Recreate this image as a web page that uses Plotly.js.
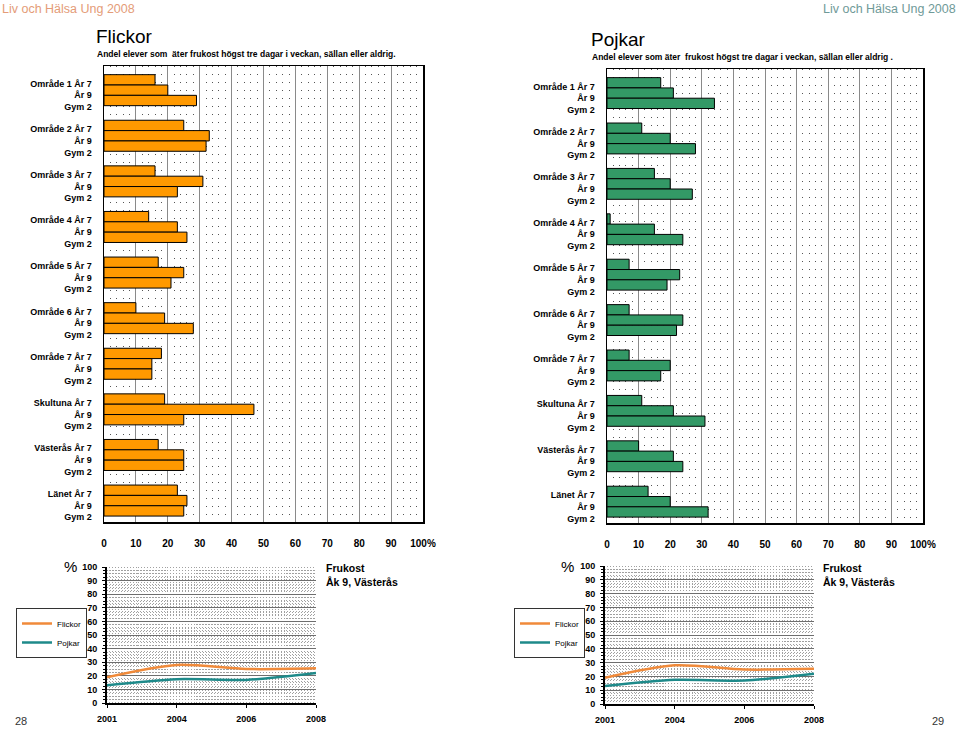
<!DOCTYPE html>
<html>
<head>
<meta charset="utf-8">
<script src="https://cdn.plot.ly/plotly-3.0.1.min.js"></script>
<style>
  html, body { margin: 0; padding: 0; background: #fff; }
  #chart { width: 960px; height: 729px; }
</style>
</head>
<body>
<div id="chart"></div>
<script>
// ---------- data ----------
const groups = ['Område 1', 'Område 2', 'Område 3', 'Område 4', 'Område 5',
                'Område 6', 'Område 7', 'Skultuna', 'Västerås', 'Länet'];
const levels = ['År 7', 'År 9', 'Gym 2'];

const flickorAr7  = [16, 25, 16, 14, 17, 10, 18, 19, 17, 23];
const flickorAr9  = [20, 33, 31, 23, 25, 19, 15, 47, 25, 26];
const flickorGym2 = [29, 32, 23, 26, 21, 28, 15, 25, 25, 25];

const pojkarAr7  = [17, 11, 15, 1, 7, 7, 7, 11, 10, 13];
const pojkarAr9  = [21, 20, 20, 15, 23, 24, 20, 21, 21, 20];
const pojkarGym2 = [34, 28, 27, 24, 19, 22, 17, 31, 24, 32];

const pctTicks = [0, 10, 20, 30, 40, 50, 60, 70, 80, 90, 100];
const pctLabels = ['0', '10', '20', '30', '40', '50', '60', '70', '80', '90', '100%'];

const years = ['2001', '2004', '2006', '2008'];
const trendFlickor = [19, 28, 25, 25.5];
const trendPojkar  = [13, 17.5, 17, 22];

// ---------- styling ----------
const FONT = 'Liberation Sans, Arial, sans-serif';
const ORANGE_BAR = '#FF9900';
const GREEN_BAR = '#339966';
const ORANGE_LINE = '#F08A3A';
const TEAL_LINE = '#1E8A8A';

const tickText = groups.map(g => g + ' ' + levels[0] + '<br>' + levels[1] + '<br>' + levels[2]);

function barTraces(vals, color, xa, ya) {
  return vals.map((v, i) => ({
    type: 'bar', orientation: 'h', x: v, y: groups, name: levels[i],
    xaxis: xa, yaxis: ya, showlegend: false,
    marker: { color: color, line: { color: '#000', width: 1 } },
    hoverinfo: 'x+name'
  }));
}

const yearIdx = years.map((_, i) => i);

function lineTrace(vals, name, color, xa, ya, lg) {
  return { type: 'scatter', mode: 'lines', x: yearIdx, y: vals, name: name,
    xaxis: xa, yaxis: ya, legend: lg,
    line: { color: color, width: 2.5, shape: 'spline', smoothing: 0.8 } };
}

const traces = [
  ...barTraces([flickorAr7, flickorAr9, flickorGym2], ORANGE_BAR, 'x', 'y'),
  ...barTraces([pojkarAr7, pojkarAr9, pojkarGym2], GREEN_BAR, 'x2', 'y2'),
  lineTrace(trendFlickor, 'Flickor', ORANGE_LINE, 'x3', 'y3', 'legend'),
  lineTrace(trendPojkar, 'Pojkar', TEAL_LINE, 'x3', 'y3', 'legend'),
  lineTrace(trendFlickor, 'Flickor', ORANGE_LINE, 'x4', 'y4', 'legend2'),
  lineTrace(trendPojkar, 'Pojkar', TEAL_LINE, 'x4', 'y4', 'legend2')
];

function barX(domain, anchor) {
  return {
    domain: domain, anchor: anchor, range: [0, 100], fixedrange: true,
    tickmode: 'array', tickvals: pctTicks, ticktext: pctLabels,
    tickfont: { size: 10, weight: 'bold', color: '#000' }, ticks: '', ticklabelstandoff: 11,
    showgrid: true, gridcolor: '#8a8a8a', gridwidth: 1,
    minor: { tickmode: 'linear', dtick: 2, tick0: 0, showgrid: true, gridcolor: '#555', griddash: '1px,7px', gridwidth: 1 },
    showline: true, linecolor: '#000', linewidth: 1.5, mirror: true, zeroline: false
  };
}
function barY(domain, anchor) {
  return {
    domain: domain, anchor: anchor, type: 'category', range: [9.47, -0.53], fixedrange: true,
    tickmode: 'array', tickvals: groups, ticktext: tickText,
    tickfont: { size: 9, weight: 'bold', color: '#000' }, ticks: '', ticklabelstandoff: 9,
    ticklabelshift: -5,
    showgrid: false, showline: true, linecolor: '#000', linewidth: 1.5, mirror: true, zeroline: false
  };
}
function lineX(domain, anchor) {
  return {
    domain: domain, anchor: anchor, range: [0, 3], fixedrange: true,
    tickmode: 'array', tickvals: yearIdx, ticktext: years,
    tickfont: { size: 9, weight: 'bold', color: '#000' }, ticks: 'outside', ticklen: 3, tickcolor: '#000',
    ticklabelstandoff: 4,
    showgrid: false,
    minor: { tickmode: 'linear', dtick: 1 / 24, tick0: 0, showgrid: true, gridcolor: '#a0a0a0', griddash: '1px,2px', gridwidth: 1 },
    showline: true, linecolor: '#000', linewidth: 1.5, mirror: false, zeroline: false
  };
}
function lineY(domain, anchor) {
  return {
    domain: domain, anchor: anchor, range: [0, 100], fixedrange: true, tickmode: 'linear', dtick: 10, tick0: 0,
    tickfont: { size: 9, weight: 'bold', color: '#000' }, ticks: 'outside', ticklen: 3, tickcolor: '#000',
    ticklabelstandoff: 3,
    showgrid: true, gridcolor: '#6e6e6e', gridwidth: 1,
    minor: { tickmode: 'linear', dtick: 2.5, tick0: 0, showgrid: true, gridcolor: '#a0a0a0', griddash: '1px,2px', gridwidth: 1,
             ticks: 'outside', ticklen: 2, tickcolor: '#000' },
    showline: true, linecolor: '#000', linewidth: 2, mirror: false, zeroline: false
  };
}

function topY(px) { return 1 - px / 729; }
function leftX(px) { return px / 960; }

function legendAt(px) {
  return {
    x: leftX(px), y: topY(608), xanchor: 'left', yanchor: 'top',
    bgcolor: '#fff', bordercolor: '#333', borderwidth: 1,
    font: { size: 8, family: FONT, color: '#000' },
    itemwidth: 30, tracegroupgap: 0
  };
}

const layout = {
  width: 960, height: 729,
  margin: { l: 0, r: 0, t: 0, b: 0 },
  paper_bgcolor: '#fff', plot_bgcolor: '#fff',
  font: { family: FONT, color: '#000' },
  barmode: 'group', bargap: 0.32, bargroupgap: 0,
  xaxis:  barX([leftX(104), leftX(423)], 'y'),
  yaxis:  barY([topY(522), topY(66)], 'x'),
  xaxis2: barX([leftX(607), leftX(923)], 'y2'),
  yaxis2: barY([topY(523), topY(69)], 'x2'),
  xaxis3: lineX([leftX(107), leftX(316)], 'y3'),
  yaxis3: lineY([topY(703), topY(567)], 'x3'),
  xaxis4: lineX([leftX(605), leftX(814)], 'y4'),
  yaxis4: lineY([topY(704), topY(566)], 'x4'),
  legend: legendAt(16),
  legend2: legendAt(514),
  annotations: [
    { text: 'Liv och Hälsa Ung 2008', xref: 'paper', yref: 'paper', x: 0, y: 1, xanchor: 'left', yanchor: 'top',
      showarrow: false, font: { size: 12.5, color: '#E49C78', family: FONT } },
    { text: 'Liv och Hälsa Ung 2008', xref: 'paper', yref: 'paper', x: 958 / 960, y: 1, xanchor: 'right', yanchor: 'top',
      showarrow: false, font: { size: 12.5, color: '#6F9A98', family: FONT } },
    { text: 'Flickor', xref: 'paper', yref: 'paper', x: leftX(94), y: topY(24), xanchor: 'left', yanchor: 'top',
      showarrow: false, font: { size: 19, color: '#000', family: FONT } },
    { text: 'Andel elever som  äter frukost högst tre dagar i veckan, sällan eller aldrig.', xref: 'paper', yref: 'paper',
      x: leftX(95), y: topY(47), xanchor: 'left', yanchor: 'top',
      showarrow: false, font: { size: 8.5, weight: 'bold', color: '#000', family: FONT } },
    { text: 'Pojkar', xref: 'paper', yref: 'paper', x: leftX(589), y: topY(27), xanchor: 'left', yanchor: 'top',
      showarrow: false, font: { size: 19, color: '#000', family: FONT } },
    { text: 'Andel elever som äter  frukost högst tre dagar i veckan, sällan eller aldrig .', xref: 'paper', yref: 'paper',
      x: leftX(590), y: topY(50), xanchor: 'left', yanchor: 'top',
      showarrow: false, font: { size: 8.5, weight: 'bold', color: '#000', family: FONT } },
    { text: '%', xref: 'paper', yref: 'paper', x: leftX(62), y: topY(556), xanchor: 'left', yanchor: 'top',
      showarrow: false, font: { size: 15, color: '#000', family: FONT } },
    { text: '%', xref: 'paper', yref: 'paper', x: leftX(559), y: topY(556), xanchor: 'left', yanchor: 'top',
      showarrow: false, font: { size: 15, color: '#000', family: FONT } },
    { text: 'Frukost<br>Åk 9, Västerås', xref: 'paper', yref: 'paper', x: leftX(324), y: topY(560), xanchor: 'left', yanchor: 'top',
      align: 'left', showarrow: false, font: { size: 10.5, weight: 'bold', color: '#000', family: FONT } },
    { text: 'Frukost<br>Åk 9, Västerås', xref: 'paper', yref: 'paper', x: leftX(821), y: topY(560), xanchor: 'left', yanchor: 'top',
      align: 'left', showarrow: false, font: { size: 10.5, weight: 'bold', color: '#000', family: FONT } },
    { text: '28', xref: 'paper', yref: 'paper', x: leftX(13), y: topY(713), xanchor: 'left', yanchor: 'top',
      showarrow: false, font: { size: 11, color: '#333', family: FONT } },
    { text: '29', xref: 'paper', yref: 'paper', x: leftX(946), y: topY(713), xanchor: 'right', yanchor: 'top',
      showarrow: false, font: { size: 11, color: '#333', family: FONT } }
  ]
};

Plotly.newPlot('chart', traces, layout, { displayModeBar: false, staticPlot: true });
</script>
</body>
</html>
